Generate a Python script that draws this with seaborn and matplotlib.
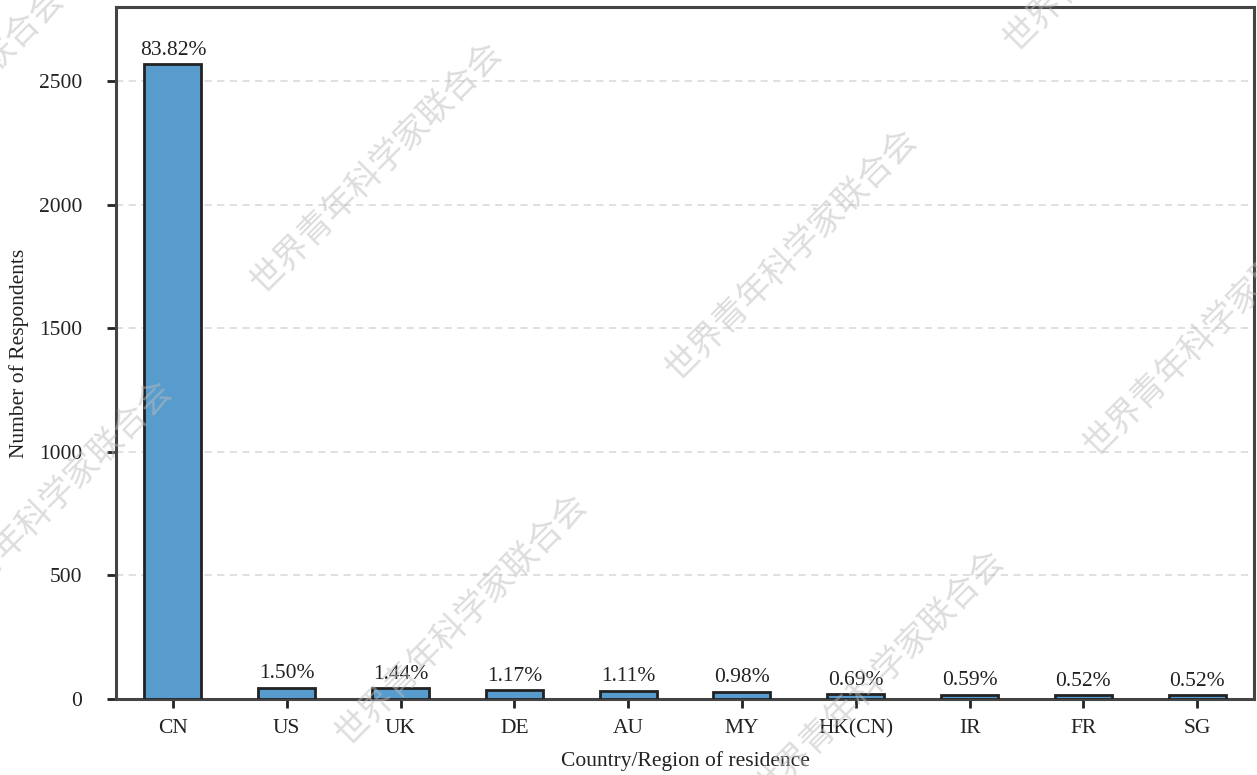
import seaborn as sns
import matplotlib.pyplot as plt
import pandas as pd

countries = ['CN', 'US', 'UK', 'DE', 'AU', 'MY', 'HK(CN)', 'IR', 'FR', 'SG']
respondents = [2570, 46, 44, 36, 34, 30, 21, 18, 16, 16]
shares = ['83.82%', '1.50%', '1.44%', '1.17%', '1.11%', '0.98%', '0.69%', '0.59%', '0.52%', '0.52%']

watermark = '世界青年科学家联合会'
# watermark centres in figure pixels (x from left, y from top)
wm_x = [376, 791, 1209, 46, 461, 878, -62, 1129]
wm_y = [168, 255, 331, 506, 620, 676, 114, -74]

sns.set_theme(style='ticks')
plt.rcParams['font.family'] = ['Liberation Serif', 'DejaVu Serif']

df = pd.DataFrame({'country': countries, 'n': respondents})

W, H = 1257, 775
fig = plt.figure(figsize=(W / 100, H / 100), dpi=100)
ax = fig.add_axes([116 / W, 1 - 699 / H, (1254 - 116) / W, (699 - 7) / H])

sns.barplot(data=df, x='country', y='n', color='#589ccd', saturation=1,
            width=0.5, edgecolor='#222222', linewidth=2, ax=ax, zorder=3)

for i, (v, s) in enumerate(zip(respondents, shares)):
    ax.annotate(s, (i, v), xytext=(0, 3), textcoords='offset points',
                ha='center', va='bottom', fontsize=15.5, color='#222222', zorder=4)

ax.set_xlim(-0.5, 9.5)
ax.set_ylim(0, 2800)
ax.set_yticks([0, 500, 1000, 1500, 2000, 2500])
ax.yaxis.grid(True, linestyle=(0, (4, 3)), color='#dddddd', linewidth=1.3, zorder=0)
ax.set_axisbelow(True)

ax.set_xlabel('Country/Region of residence', fontsize=15.5, color='#222222', labelpad=9)
ax.set_ylabel('Number of Respondents', fontsize=15.5, color='#222222', labelpad=7)
ax.tick_params(axis='both', labelsize=15.5, colors='#222222', length=6.5, width=2, direction='out')
ax.tick_params(axis='y', pad=18)
ax.tick_params(axis='x', pad=8)
for sp in ax.spines.values():
    sp.set_color('#444444')
    sp.set_linewidth(2.2)

for x, y in zip(wm_x, wm_y):
    fig.text(x / W, 1 - y / H, watermark, rotation=45, ha='center', va='center',
             fontsize=24.5, color='#bbbbbb', alpha=0.5,
             family=['Noto Sans CJK SC', 'DejaVu Sans'], zorder=10)

fig.savefig('out.png', dpi=100)
